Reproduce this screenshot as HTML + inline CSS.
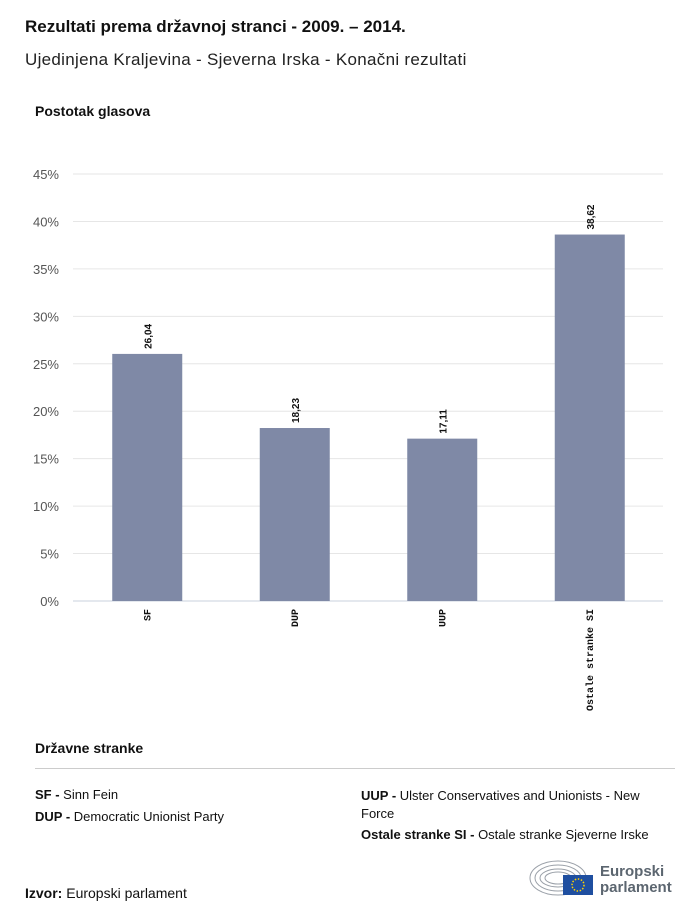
<!DOCTYPE html>
<html><head><meta charset="utf-8">
<style>
body{margin:0;width:700px;height:918px;background:#fff;font-family:"Liberation Sans",sans-serif;color:#111;position:relative;overflow:hidden}
.abs{position:absolute}
</style></head><body>
<div class="abs" style="left:25px;top:17px;font-size:17px;font-weight:bold">Rezultati prema državnoj stranci - 2009. – 2014.</div>
<div class="abs" style="left:25px;top:50px;font-size:17px;letter-spacing:0.3px;color:#222">Ujedinjena Kraljevina - Sjeverna Irska - Konačni rezultati</div>
<div class="abs" style="left:35px;top:103px;font-size:14px;font-weight:bold">Postotak glasova</div>
<svg class="abs" style="left:0;top:0" width="700" height="730" id="chart"></svg>
<div class="abs" style="left:35px;top:740px;font-size:14px;font-weight:bold">Državne stranke</div>
<div class="abs" style="left:35px;top:768px;width:640px;height:1px;background:#ccc"></div>
<div class="abs" style="left:35px;top:787px;font-size:13px"><b>SF - </b>Sinn Fein</div>
<div class="abs" style="left:35px;top:809px;font-size:13px"><b>DUP - </b>Democratic Unionist Party</div>
<div class="abs" style="left:361px;top:787px;width:310px;font-size:13px;line-height:18px"><b>UUP - </b>Ulster Conservatives and Unionists - New Force</div>
<div class="abs" style="left:361px;top:827px;font-size:13px"><b>Ostale stranke SI - </b>Ostale stranke Sjeverne Irske</div>
<div class="abs" style="left:25px;top:885px;font-size:14px"><b>Izvor:</b> Europski parlament</div>
<svg class="abs" style="left:528px;top:858px" width="70" height="40">
<g fill="none" stroke="#9aa0a8" stroke-width="1">
<ellipse cx="30" cy="20" rx="28" ry="17"/><ellipse cx="30" cy="20" rx="23" ry="13"/><ellipse cx="30" cy="20" rx="18" ry="9"/><ellipse cx="30" cy="20" rx="13" ry="6"/></g>
<rect x="35" y="17" width="30" height="20" fill="#1f4fa0"/>
<circle cx="50" cy="27" r="6" fill="none" stroke="#ffd200" stroke-width="1.5" stroke-dasharray="1.5 1.6"/>
</svg>
<div class="abs" style="left:600px;top:864px;font-size:15px;font-weight:bold;color:#5c6670;line-height:16px">Europski<br>parlament</div>
<script>
const categories=["SF","DUP","UUP","Ostale stranke SI"];
const values=[26.04,18.23,17.11,38.62];
const valueLabels=["26,04","18,23","17,11","38,62"];
const yTicks=[0,5,10,15,20,25,30,35,40,45];
const svg=document.getElementById('chart');
const NS="http://www.w3.org/2000/svg";
const x0=73,x1=663,y0=601,yTop=174,yMax=45;
const y=v=>y0-v*(y0-yTop)/yMax;
const bw=(x1-x0)/categories.length;
const xc=i=>x0+bw*(i+0.5)+0.5;
function mk(t,a){const e=document.createElementNS(NS,t);for(const k in a)e.setAttribute(k,a[k]);svg.appendChild(e);return e;}
yTicks.forEach(t=>{
 const l=mk('line',{x1:x0,x2:x1,y1:y(t),y2:y(t),stroke:t===0?'#c8d2dc':'#e6e6e6','stroke-width':1});
 
 
 const tx=mk('text',{x:59,y:y(t)+5,'text-anchor':'end','font-size':13,fill:'#555','font-family':'Liberation Sans, sans-serif'});
 tx.textContent=t+'%';
 
 
});
categories.forEach((c,i)=>{
 const b=mk('rect',{x:xc(i)-35,y:y(values[i]),width:70,height:y0-y(values[i]),fill:'#7f89a6'});
 
 
 const vl=mk('text',{transform:`translate(${xc(i)+4},${y(values[i])-5}) rotate(-90)`,'font-size':10,'font-weight':'bold',fill:'#111','font-family':'Liberation Sans, sans-serif'});
 vl.textContent=valueLabels[i];
 
 
 const cl=mk('text',{transform:`translate(${xc(i)+3},${y0+8}) rotate(-90)`,'text-anchor':'end','font-size':10,'font-weight':'bold',fill:'#111','font-family':'Liberation Mono, monospace'});
 cl.textContent=c;
 
 
});
</script>
</body></html>
